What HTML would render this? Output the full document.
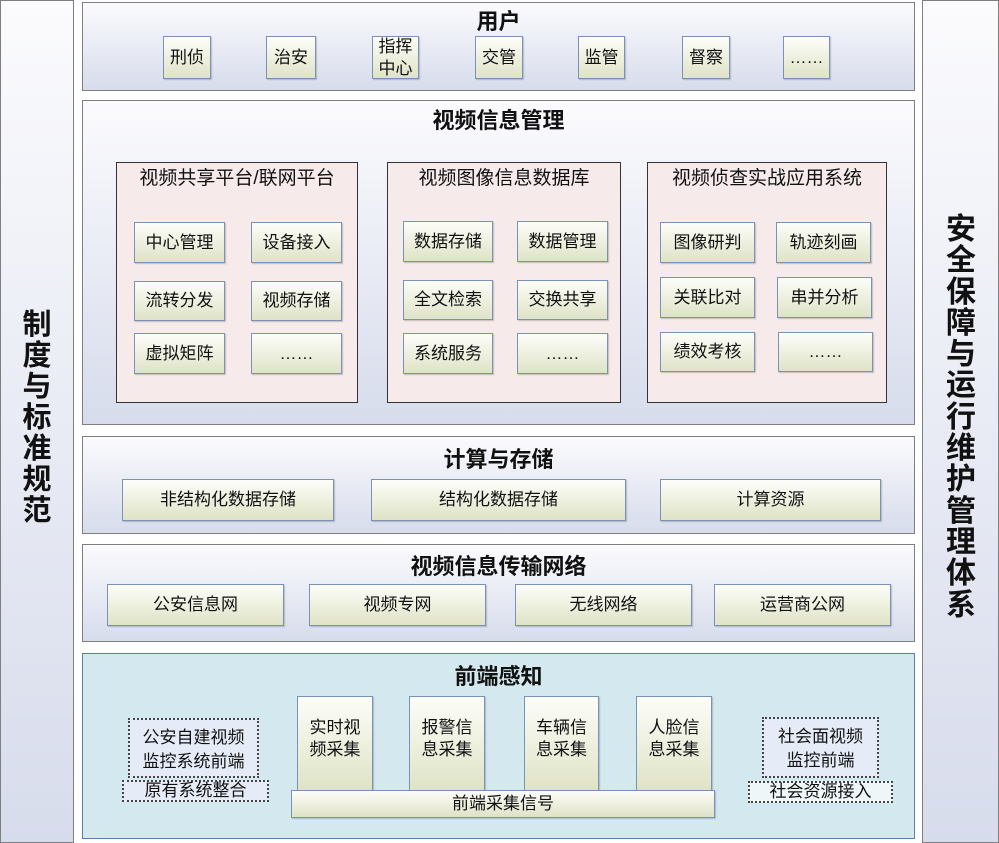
<!DOCTYPE html>
<html><head><meta charset="utf-8"><style>
*{margin:0;padding:0;box-sizing:border-box}
body{width:999px;height:843px;position:relative;background:#fff;font-family:"Liberation Sans","Noto Sans CJK SC",sans-serif;color:#111;overflow:hidden}
.a{position:absolute}
.panel{position:absolute;border:1px solid #7f7f7f;background:linear-gradient(#fbfbfd,#d7dcec)}
.t{position:absolute;left:0;right:0;text-align:center;font-weight:bold;font-size:22px}
.b{position:absolute;border:1px solid #7a92b8;background:linear-gradient(#fdfdf9,#dfe3c6);display:flex;align-items:center;justify-content:center;text-align:center;font-size:17px;line-height:22px;box-shadow:1px 1px 1px rgba(0,0,0,.2)}
.sub{position:absolute;border:1px solid #333;background:#f6eaea}
.st{position:absolute;left:0;right:0;top:0px;text-align:center;font-size:19px}
.vt{position:absolute;font-weight:bold;text-align:center;line-height:1}
.dot{position:absolute;border:2px dotted #444;background:#e6ecf7;font-size:17px;text-align:center;line-height:24px}
</style></head><body>
<div class="panel" style="left:0;top:0;width:74px;height:843px"></div>
<div class="vt" style="left:20px;top:310px;width:34px;font-size:29px;line-height:31px">制<br>度<br>与<br>标<br>准<br>规<br>范</div>
<div class="panel" style="left:922px;top:0;width:77px;height:843px"></div>
<div class="vt" style="left:943px;top:214px;width:36px;font-size:30px;line-height:31.3px">安<br>全<br>保<br>障<br>与<br>运<br>行<br>维<br>护<br>管<br>理<br>体<br>系</div>

<div class="panel" style="left:82px;top:2px;width:833px;height:89px"><div class="t" style="top:1px">用户</div></div>
<div class="b" style="left:163px;top:36px;width:48px;height:43px">刑侦</div>
<div class="b" style="left:266px;top:36px;width:50px;height:43px">治安</div>
<div class="b" style="left:372px;top:36px;width:47px;height:43px">指挥<br>中心</div>
<div class="b" style="left:475px;top:36px;width:48px;height:43px">交管</div>
<div class="b" style="left:578px;top:36px;width:47px;height:43px">监管</div>
<div class="b" style="left:682px;top:36px;width:48px;height:43px">督察</div>
<div class="b" style="left:783px;top:36px;width:47px;height:43px">……</div>

<div class="panel" style="left:82px;top:100px;width:833px;height:325px"><div class="t" style="top:2px">视频信息管理</div></div>
<div class="sub" style="left:116px;top:162px;width:242px;height:241px"><div class="st">视频共享平台/联网平台</div></div>
<div class="sub" style="left:387px;top:162px;width:234px;height:241px"><div class="st">视频图像信息数据库</div></div>
<div class="sub" style="left:647px;top:162px;width:240px;height:241px"><div class="st">视频侦查实战应用系统</div></div>
<div class="b" style="left:134px;top:222px;width:91px;height:41px">中心管理</div>
<div class="b" style="left:251px;top:222px;width:91px;height:41px">设备接入</div>
<div class="b" style="left:134px;top:281px;width:91px;height:40px">流转分发</div>
<div class="b" style="left:251px;top:281px;width:91px;height:40px">视频存储</div>
<div class="b" style="left:134px;top:333px;width:91px;height:41px">虚拟矩阵</div>
<div class="b" style="left:251px;top:333px;width:91px;height:41px">……</div>
<div class="b" style="left:403px;top:221px;width:90px;height:41px">数据存储</div>
<div class="b" style="left:517px;top:221px;width:91px;height:41px">数据管理</div>
<div class="b" style="left:403px;top:280px;width:90px;height:40px">全文检索</div>
<div class="b" style="left:517px;top:280px;width:91px;height:40px">交换共享</div>
<div class="b" style="left:403px;top:333px;width:90px;height:41px">系统服务</div>
<div class="b" style="left:517px;top:333px;width:91px;height:41px">……</div>
<div class="b" style="left:660px;top:222px;width:95px;height:41px">图像研判</div>
<div class="b" style="left:776px;top:222px;width:95px;height:41px">轨迹刻画</div>
<div class="b" style="left:660px;top:277px;width:95px;height:41px">关联比对</div>
<div class="b" style="left:777px;top:277px;width:95px;height:41px">串并分析</div>
<div class="b" style="left:660px;top:332px;width:95px;height:40px">绩效考核</div>
<div class="b" style="left:778px;top:332px;width:95px;height:40px">……</div>

<div class="panel" style="left:82px;top:436px;width:833px;height:98px"><div class="t" style="top:5px">计算与存储</div></div>
<div class="b" style="left:122px;top:479px;width:212px;height:42px">非结构化数据存储</div>
<div class="b" style="left:371px;top:479px;width:255px;height:42px">结构化数据存储</div>
<div class="b" style="left:660px;top:479px;width:221px;height:42px">计算资源</div>

<div class="panel" style="left:82px;top:544px;width:833px;height:98px"><div class="t" style="top:4px">视频信息传输网络</div></div>
<div class="b" style="left:107px;top:584px;width:177px;height:42px">公安信息网</div>
<div class="b" style="left:309px;top:584px;width:177px;height:42px">视频专网</div>
<div class="b" style="left:515px;top:584px;width:177px;height:42px">无线网络</div>
<div class="b" style="left:714px;top:584px;width:177px;height:42px">运营商公网</div>

<div class="a" style="left:82px;top:653px;width:833px;height:186px;border:1px solid #5a7fa8;background:#d3e9ef"><div class="t" style="top:5px">前端感知</div></div>
<div class="b" style="left:297px;top:696px;width:76px;height:95px;align-items:flex-start;padding-top:20px">实时视<br>频采集</div>
<div class="b" style="left:409px;top:696px;width:76px;height:95px;align-items:flex-start;padding-top:20px">报警信<br>息采集</div>
<div class="b" style="left:524px;top:696px;width:75px;height:95px;align-items:flex-start;padding-top:20px">车辆信<br>息采集</div>
<div class="b" style="left:636px;top:696px;width:76px;height:95px;align-items:flex-start;padding-top:20px">人脸信<br>息采集</div>
<div class="b" style="left:291px;top:790px;width:424px;height:28px">前端采集信号</div>
<div class="dot" style="left:128px;top:718px;width:131px;height:60px;padding-top:6px">公安自建视频<br>监控系统前端</div>
<div class="dot" style="left:122px;top:780px;width:147px;height:22px;line-height:18px">原有系统整合</div>
<div class="dot" style="left:762px;top:717px;width:117px;height:61px;padding-top:6px">社会面视频<br>监控前端</div>
<div class="dot" style="left:748px;top:781px;width:145px;height:22px;line-height:18px;background:#eef6f8">社会资源接入</div>
</body></html>
